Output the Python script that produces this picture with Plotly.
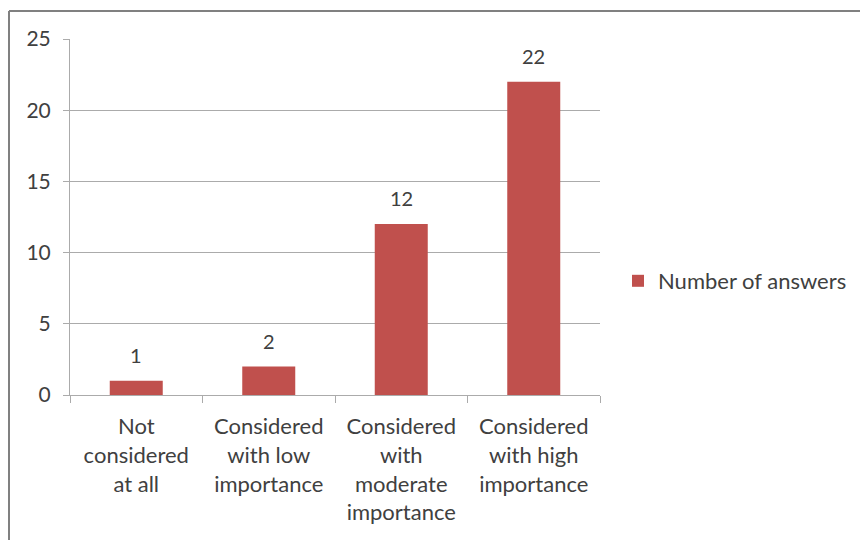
import plotly.graph_objects as go

# Survey answers per importance level
categories = [
    "Not<br>considered<br>at all",
    "Considered<br>with low<br>importance",
    "Considered<br>with<br>moderate<br>importance",
    "Considered<br>with high<br>importance",
]
answers = [1, 2, 12, 22]
series_name = "Number of answers"
y_ticks = [0, 5, 10, 15, 20, 25]

bar_color = "#C0504D"
text_color = "#404040"
grid_color = "#ABABAB"
frame_color = "#808080"
font_family = "Lato, 'Open Sans', sans-serif"

fig = go.Figure()
fig.add_trace(go.Bar(
    x=categories,
    y=answers,
    name=series_name,
    marker=dict(color=bar_color, line=dict(width=0)),
    width=0.4,
    showlegend=True,
))

# Value labels above each bar
for cat, val in zip(categories, answers):
    fig.add_annotation(
        x=cat, y=val, xref="x", yref="y",
        text=str(val), showarrow=False,
        yanchor="bottom", yshift=12,
        font=dict(size=20, color=text_color, family=font_family),
    )

fig.update_layout(
    width=860,
    height=540,
    margin=dict(l=70, r=260, t=39, b=145, autoexpand=False),
    paper_bgcolor="white",
    plot_bgcolor="white",
    font=dict(family=font_family, size=22, color=text_color),
    showlegend=True,
    legend=dict(
        x=1.034, y=(395 - 281) / 356, xanchor="left", yanchor="middle",
        font=dict(size=22, color=text_color),
        bgcolor="rgba(0,0,0,0)",
    ),
)

fig.update_xaxes(
    type="category",
    showline=True, linecolor=grid_color, linewidth=1,
    ticks="outside", tickson="boundaries", ticklen=7,
    tickcolor=grid_color, tickfont=dict(size=22, color=text_color),
    ticklabelstandoff=12,
    showgrid=False,
)
fig.update_yaxes(
    range=[0, 25], tickvals=y_ticks,
    showline=True, linecolor=grid_color, linewidth=1,
    ticks="outside", ticklen=6, tickcolor=grid_color,
    showgrid=True, gridcolor=grid_color, gridwidth=1,
    tickfont=dict(size=21, color=text_color),
    ticklabelstandoff=8,
    zeroline=False,
)

# Chart frame edges (top and left)
frame_top = (395 - 11) / 356
frame_left = (9 - 70) / 530
fig.add_shape(type="line", xref="paper", yref="paper",
              x0=frame_left, x1=(860 - 70) / 530,
              y0=frame_top, y1=frame_top,
              line=dict(color=frame_color, width=2))
fig.add_shape(type="line", xref="paper", yref="paper",
              x0=frame_left, x1=frame_left,
              y0=frame_top, y1=(395 - 545) / 356,
              line=dict(color=frame_color, width=2))

fig.write_html("out.html")
